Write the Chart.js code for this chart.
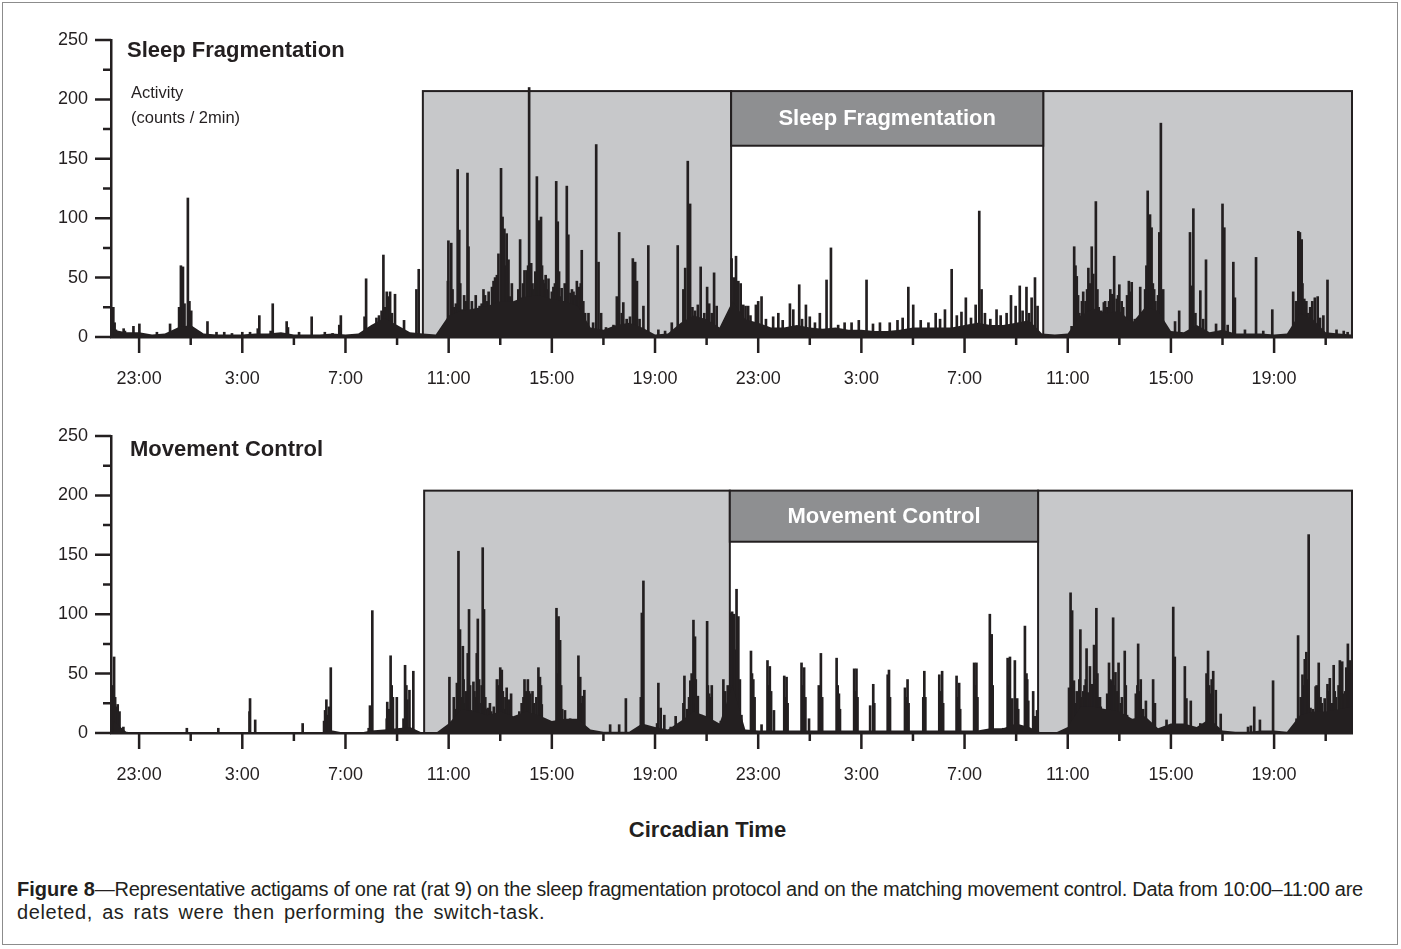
<!DOCTYPE html>
<html>
<head>
<meta charset="utf-8">
<script src="https://cdn.jsdelivr.net/npm/chart.js@4.4.1/dist/chart.umd.min.js"></script>
<style>
  body { margin: 0; background: #fff; width: 1401px; height: 949px; position: relative; overflow: hidden;
         font-family: 'Liberation Sans', Arial, sans-serif; color: #231f20; }
  #frame { position: absolute; left: 2px; top: 2px; width: 1394px; height: 941px; border: 1.5px solid #8c8c8c; }
  canvas { position: absolute; left: 0; }
  #fragChart { top: 0; }
  #ctrlChart { top: 396px; }
  .lbl { position: absolute; white-space: nowrap; }
  .panel { font: bold 22px/22px 'Liberation Sans', Arial, sans-serif; }
  .cap { left: 17px; font-size: 20px; line-height: 23px; }
</style>
</head>
<body>
<div id="frame"></div>
<canvas id="fragChart" width="1401" height="396"></canvas>
<canvas id="ctrlChart" width="1401" height="396"></canvas>

<div class="lbl panel" style="left:127px; top:39px;">Sleep Fragmentation</div>
<div class="lbl" style="left:131px; top:80px; font-size:16.5px; line-height:25px;">Activity<br>(counts / 2min)</div>
<div class="lbl panel" style="left:130px; top:438px;">Movement Control</div>
<div class="lbl" style="left:7px; width:1401px; top:819px; text-align:center; font:bold 22px/22px 'Liberation Sans', Arial, sans-serif;">Circadian Time</div>
<div class="lbl cap" style="top:878px; letter-spacing:-0.28px;"><b style="letter-spacing:0">Figure 8</b>—Representative actigams of one rat (rat 9) on the sleep fragmentation protocol and on the matching movement control. Data from 10:00–11:00 are</div>
<div class="lbl cap" style="top:901px; letter-spacing:0.6px; word-spacing:3px;">deleted, as rats were then performing the switch-task.</div>

<script>
// Tick positions (hours since midnight of the first day)
const xMajor = [23, 27, 31, 35, 39, 43, 47, 51, 55, 59, 63, 67];
const xMinor = [25, 29, 33, 37, 41, 45, 49, 53, 57, 61, 65, 69];
const yMajor = [0, 50, 100, 150, 200, 250];
const yMinor = [25, 75, 125, 175, 225];

// Activity spikes, [hour, counts / 2min]  -- Sleep Fragmentation
const fragSpikes = [
  [22.00,25],[22.05,12],[22.10,6],[22.40,7],[22.45,5],[22.78,9],[23.01,11],[23.69,4],[24.20,11],[24.55,25],
  [24.62,60],[24.70,59],[24.76,28],[24.89,117],[24.95,30],[25.02,22],[25.36,4],[25.65,13],[26.00,4],[26.30,4],
  [26.60,3],[27.00,4],[27.30,4],[27.60,7],[27.66,18],[28.10,5],[28.18,28],[28.72,13],[28.77,8],[29.20,4],
  [29.69,17],[30.20,4],[30.50,3],[30.76,10],[30.82,18],[31.74,17],[31.80,49],[32.20,16],[32.30,18],[32.40,22],
  [32.47,69],[32.53,25],[32.60,38],[32.66,34],[32.73,38],[32.80,20],[32.92,36],[33.00,9],[33.27,14],[33.75,40],
  [33.84,57],
  [34.97,47],[34.99,81],[35.10,79],[35.15,40],[35.20,25],[35.28,28],[35.35,141],[35.41,90],[35.45,45],[35.51,23],
  [35.60,35],[35.66,30],[35.73,138],[35.77,76],[35.85,20],[35.90,30],[35.96,18],[36.05,35],[36.10,22],[36.20,26],
  [36.28,28],[36.35,40],[36.41,35],[36.50,30],[36.55,38],[36.61,25],[36.68,42],[36.74,47],[36.80,50],[36.87,52],
  [36.93,70],[37.03,142],[37.09,101],[37.16,91],[37.20,60],[37.25,87],[37.32,65],[37.38,34],[37.45,45],[37.50,25],
  [37.58,28],[37.65,30],[37.70,40],[37.77,82],[37.83,33],[37.88,45],[37.94,56],[38.03,56],[38.08,60],[38.12,210],
  [38.20,62],[38.25,45],[38.30,40],[38.36,55],[38.42,135],[38.46,70],[38.51,98],[38.58,101],[38.62,60],[38.67,48],
  [38.72,45],[38.76,52],[38.82,40],[38.87,49],[38.95,30],[39.00,38],[39.06,42],[39.12,45],[39.17,131],[39.23,97],
  [39.28,55],[39.32,34],[39.38,41],[39.45,30],[39.50,45],[39.58,127],[39.64,86],[39.72,37],[39.78,40],[39.84,38],
  [39.90,35],[39.97,47],[40.02,38],[40.06,42],[40.12,45],[40.16,73],[40.22,30],[40.29,20],[40.42,20],[40.60,12],
  [40.72,162],[40.81,63],[40.91,20],[41.10,8],[41.39,10],[41.52,34],[41.61,88],[41.71,20],[41.77,29],[41.90,15],
  [42.03,17],[42.14,66],[42.23,63],[42.30,47],[42.40,15],[42.55,26],[42.74,77],[43.13,6],[43.39,5],[43.65,12],
  [43.88,77],[44.10,40],[44.17,58],[44.27,148],[44.36,112],[44.45,25],[44.55,22],[44.66,27],[44.77,59],[44.91,20],
  [45.02,42],[45.10,28],[45.20,20],[45.29,54],[45.39,26],[45.48,6],
  [45.97,66],[46.05,50],[46.14,68],[46.23,47],[46.32,45],[46.42,27],[46.51,26],[46.61,26],[46.70,18],[46.91,27],
  [47.00,30],[47.13,34],[47.30,15],[47.58,17],[47.78,20],[47.95,14],[48.23,28],[48.36,23],[48.59,44],[48.70,15],
  [48.85,27],[49.00,17],[49.20,12],[49.39,20],[49.65,48],[49.82,75],[50.10,10],[50.35,12],[50.62,12],[50.90,14],
  [51.20,48],[51.45,11],[51.72,12],[52.10,12],[52.40,14],[52.60,16],[52.82,42],[53.01,27],[53.30,14],[53.60,12],
  [53.88,20],[54.05,15],[54.24,23],[54.50,57],[54.70,18],[54.88,21],[55.05,33],[55.25,16],[55.43,27],[55.57,106],
  [55.66,40],[55.79,20],[56.00,15],[56.24,23],[56.40,18],[56.63,20],[56.80,35],[56.98,26],[57.14,43],[57.25,22],
  [57.40,42],[57.50,20],[57.60,33],[57.73,50],[57.83,26],
  [59.15,9],[59.25,76],[59.30,60],[59.35,51],[59.40,35],[59.45,20],[59.55,30],[59.60,38],[59.69,30],[59.75,40],
  [59.80,58],[59.85,45],[59.93,76],[59.99,53],[60.09,114],[60.15,40],[60.20,25],[60.30,22],[60.40,29],[60.45,30],
  [60.51,25],[60.60,30],[60.65,40],[60.73,36],[60.80,68],[60.90,32],[60.95,35],[61.00,44],[61.09,30],[61.15,25],
  [61.30,35],[61.37,47],[61.43,38],[61.48,46],[61.60,15],[61.81,42],[62.00,40],[62.05,60],[62.10,123],[62.19,103],
  [62.25,92],[62.30,45],[62.35,40],[62.40,30],[62.45,15],[62.50,35],[62.55,88],[62.61,180],[62.70,40],[63.16,13],
  [63.32,22],[63.74,88],[63.80,43],[63.87,108],[63.95,20],[64.14,39],[64.25,15],[64.36,65],[64.75,11],[65.00,112],
  [65.07,92],[65.20,10],[65.42,63],[65.48,33],[65.87,6],[66.30,67],[66.58,5],[66.93,23],[67.74,38],[67.85,30],
  [67.94,89],[68.00,88],[68.07,82],[68.10,45],[68.17,32],[68.25,30],[68.30,20],[68.40,25],[68.48,30],[68.58,33],
  [68.69,34],[68.78,16],[68.91,18],[69.07,48],[69.42,6],[69.70,5],[69.85,4]
];

// Dense background activity every 30 min from 22:00 -- Sleep Fragmentation
const fragBase = [
  6,4,4,2,3,8,10,3,2,2,2,3,3,4,2,2,2,3,2,3,10,16,10,4,
  3,2,18,22,24,26,30,30,34,35,32,30,26,8,6,10,12,8,2,3,12,18,15,8,
  30,15,12,8,8,10,8,7,8,6,6,5,5,6,8,8,8,8,10,12,10,10,12,14,
  3,2,3,18,24,20,22,12,25,22,5,4,10,4,6,3,3,3,2,3,20,15,4,3,2
];

// Activity spikes, [hour, counts / 2min]  -- Movement Control
const ctrlSpikes = [
  [22.00,40],[22.03,64],[22.07,30],[22.11,22],[22.17,24],[22.24,18],[22.39,5],[24.85,4],[26.07,4],[27.28,18],
  [27.30,29],[27.50,11],[29.34,8],[30.17,10],[30.21,19],[30.26,28],[30.31,15],[30.36,22],[30.43,55],[31.90,4],
  [31.95,23],[32.00,20],[32.04,103],[32.60,12],[32.62,26],[32.68,20],[32.75,65],[32.79,40],[32.84,30],[32.99,30],
  [33.25,12],[33.31,57],[33.36,40],[33.40,28],[33.48,36],[33.63,52],
  [35.03,47],[35.20,30],[35.25,20],[35.32,42],[35.38,153],[35.44,87],[35.50,30],[35.55,73],[35.58,45],[35.62,25],
  [35.68,35],[35.74,67],[35.79,104],[35.83,40],[35.87,19],[35.96,43],[36.00,35],[36.03,30],[36.09,67],[36.13,96],
  [36.18,45],[36.20,25],[36.28,40],[36.32,156],[36.37,104],[36.42,30],[36.45,20],[36.52,21],[36.60,25],[36.65,18],
  [36.75,22],[36.87,45],[36.93,40],[36.98,45],[37.00,55],[37.06,53],[37.10,35],[37.15,20],[37.20,30],[37.25,38],
  [37.32,15],[37.35,28],[37.42,33],[37.60,10],[37.74,18],[37.83,25],[37.90,30],[37.94,45],[38.00,35],[38.07,45],
  [38.12,35],[38.16,33],[38.25,35],[38.30,25],[38.35,15],[38.40,30],[38.48,55],[38.54,47],[38.58,40],[38.61,24],
  [38.85,5],[39.05,8],[39.18,105],[39.22,50],[39.26,98],[39.32,78],[39.36,40],[39.40,20],[39.51,19],[39.71,12],
  [40.03,65],[40.06,40],[40.10,47],[40.15,25],[40.19,31],[40.26,36],[41.26,7],[41.61,7],[41.87,29],[42.45,30],
  [42.49,101],[42.52,60],[42.55,128],[43.08,8],[43.13,42],[43.22,21],[43.36,15],[43.61,5],[43.80,14],[44.10,25],
  [44.14,48],[44.25,20],[44.32,30],[44.37,44],[44.42,50],[44.45,40],[44.49,95],[44.52,60],[44.55,81],[44.58,45],
  [44.60,25],[44.66,31],[44.80,15],[45.02,94],[45.05,40],[45.10,33],[45.15,30],[45.20,40],[45.55,10],[45.65,45],
  [45.72,35],[45.82,40],
  [45.93,101],[45.99,102],[46.06,100],[46.11,70],[46.16,121],[46.23,98],[46.29,45],[46.35,15],[46.72,69],[46.76,50],
  [46.81,45],[46.86,30],[47.13,7],[47.36,61],[47.40,40],[47.45,56],[47.50,35],[47.61,19],[48.01,48],[48.06,30],
  [48.10,47],[48.14,25],[48.68,59],[48.73,40],[48.78,55],[48.83,30],[48.97,12],[49.35,40],[49.43,67],[49.48,30],
  [50.04,63],[50.08,40],[50.13,33],[50.17,20],[50.72,54],[50.76,35],[50.81,54],[50.85,30],[51.34,23],[51.46,41],
  [51.50,25],[52.02,49],[52.07,53],[52.11,30],[52.69,38],[52.74,30],[52.79,45],[52.83,25],[53.40,30],[53.44,52],
  [53.48,30],[54.02,49],[54.07,35],[54.13,52],[54.17,25],[54.69,48],[54.74,30],[54.79,42],[54.83,20],[55.37,59],
  [55.42,40],[55.46,59],[55.50,30],[55.98,100],[56.05,83],[56.09,40],[56.50,4],[56.67,63],[56.72,40],[56.76,64],
  [56.85,29],[56.95,61],[57.04,29],[57.08,20],[57.34,90],[57.40,50],[57.43,45],[57.47,27],[57.66,35],[57.73,14],
  [57.81,19],
  [59.05,38],[59.11,118],[59.14,50],[59.17,103],[59.20,40],[59.24,44],[59.30,25],[59.35,35],[59.40,24],[59.45,45],
  [59.49,87],[59.56,30],[59.60,35],[59.65,40],[59.70,45],[59.73,71],[59.79,34],[59.86,56],[59.90,40],[59.95,41],
  [60.02,74],[60.06,45],[60.11,105],[60.15,50],[60.20,30],[60.25,30],[60.28,22],[60.40,18],[60.53,33],[60.60,59],
  [60.65,45],[60.70,44],[60.76,97],[60.80,40],[60.85,51],[60.92,35],[60.97,59],[61.05,25],[61.10,30],[61.21,69],
  [61.25,40],[61.30,15],[61.64,33],[61.70,40],[61.73,75],[61.78,35],[61.83,45],[61.92,20],[62.03,27],[62.31,45],
  [62.38,25],[62.83,11],[63.09,106],[63.12,40],[63.15,64],[63.54,56],[63.60,29],[63.77,27],[64.14,8],[64.38,50],
  [64.44,69],[64.48,40],[64.53,33],[64.58,45],[64.64,52],[64.74,36],[64.93,16],[65.99,5],[66.10,6],[66.23,22],
  [66.45,11],[66.96,44],[67.87,12],[67.93,82],[68.03,30],[68.10,49],[68.15,40],[68.19,62],[68.25,68],[68.30,45],
  [68.34,167],[68.41,21],[68.50,20],[68.61,39],[68.65,40],[68.73,59],[68.80,30],[68.85,25],[68.96,29],[69.07,41],
  [69.10,35],[69.16,46],[69.25,25],[69.31,57],[69.35,35],[69.40,30],[69.50,40],[69.55,61],[69.60,40],[69.64,60],
  [69.71,33],[69.75,35],[69.80,55],[69.86,75],[69.90,45],[69.93,61],[69.96,50]
];

// Dense background activity every 30 min from 22:00 -- Movement Control
const ctrlBase = [
  10,1,0,0,0,0,0,0,0,0,0,0,0,0,0,0,0,2,0,0,2,3,4,5,
  0,0,8,20,18,15,18,14,18,15,10,12,12,3,1,1,1,8,5,3,10,18,14,8,
  40,3,2,2,2,2,2,2,2,2,2,2,2,2,2,2,2,2,2,2,4,4,8,5,
  0,0,5,22,22,20,18,12,14,4,8,8,5,12,2,1,1,2,2,1,15,18,18,20,22
];

const INK = '#231f20';
const FONT = "'Liberation Sans', Arial, sans-serif";

const shading = {
  id: 'shading',
  beforeDatasetsDraw(chart, args, o) {
    const { ctx, scales: { x, y } } = chart;
    const y0 = y.getPixelForValue(0);
    ctx.save();
    ctx.lineWidth = 2;
    ctx.strokeStyle = INK;
    o.dark.forEach(([a, b]) => {
      const l = x.getPixelForValue(a), r = x.getPixelForValue(b), t = y.getPixelForValue(o.top);
      ctx.fillStyle = '#c7c8ca';
      ctx.fillRect(l, t, r - l, y0 - t);
      ctx.strokeRect(l, t, r - l, y0 - t);
    });
    const [a, b, lo, hi] = o.banner;
    const l = x.getPixelForValue(a), r = x.getPixelForValue(b);
    const t = y.getPixelForValue(hi), btm = y.getPixelForValue(lo);
    ctx.fillStyle = '#8e8f91';
    ctx.fillRect(l, t, r - l, btm - t);
    ctx.strokeRect(l, t, r - l, btm - t);
    ctx.fillStyle = '#fff';
    ctx.font = 'bold 22px ' + FONT;
    ctx.textAlign = 'center';
    ctx.textBaseline = 'middle';
    ctx.fillText(o.text, (l + r) / 2, (t + btm) / 2 + 1);
    ctx.restore();
  }
};

const axisTicks = {
  id: 'axisTicks',
  afterDraw(chart) {
    const { ctx, scales: { x, y }, chartArea: a } = chart;
    ctx.save();
    ctx.strokeStyle = INK;
    ctx.lineWidth = 2.5;
    ctx.beginPath();
    yMajor.forEach(v => { const p = y.getPixelForValue(v); ctx.moveTo(a.left, p); ctx.lineTo(a.left - 16, p); });
    yMinor.forEach(v => { const p = y.getPixelForValue(v); ctx.moveTo(a.left, p); ctx.lineTo(a.left - 8, p); });
    xMajor.forEach(v => { const p = x.getPixelForValue(v); ctx.moveTo(p, a.bottom); ctx.lineTo(p, a.bottom + 16); });
    xMinor.forEach(v => { const p = x.getPixelForValue(v); ctx.moveTo(p, a.bottom); ctx.lineTo(p, a.bottom + 8); });
    ctx.stroke();
    ctx.restore();
  }
};

function actigram(id, spikes, base, dark, boxTop, banner, text) {
  new Chart(document.getElementById(id), {
    type: 'bar',
    data: {
      datasets: [
        {
          type: 'line',
          data: base.map((v, i) => ({ x: 22 + i * 0.5, y: v })),
          fill: 'origin', backgroundColor: INK, borderWidth: 0, pointRadius: 0, tension: 0
        },
        {
          type: 'bar',
          data: spikes.map(([h, v]) => ({ x: h, y: v })),
          backgroundColor: INK, barThickness: 2
        }
      ]
    },
    options: {
      responsive: false,
      animation: false,
      layout: { padding: { left: 0, right: 49, top: 40, bottom: 0 } },
      plugins: {
        legend: { display: false },
        tooltip: { enabled: false },
        shading: { dark: dark, top: boxTop, banner: banner, text: text }
      },
      scales: {
        x: {
          type: 'linear', min: 21.91, max: 70.02, offset: false,
          grid: { display: false, drawTicks: false },
          border: { color: INK, width: 2.5 },
          afterBuildTicks: s => { s.ticks = xMajor.map(v => ({ value: v })); },
          afterFit: s => { s.height = 59; },
          ticks: { callback: v => (v % 24) + ':00', color: INK, font: { family: FONT, size: 18 }, padding: 31, maxRotation: 0, autoSkip: false }
        },
        y: {
          min: 0, max: 250,
          grid: { display: false, drawTicks: false },
          border: { color: INK, width: 2.5 },
          afterBuildTicks: s => { s.ticks = yMajor.map(v => ({ value: v })); },
          afterFit: s => { s.width = 111; },
          ticks: { color: INK, font: { family: FONT, size: 18 }, padding: 23 }
        }
      }
    },
    plugins: [shading, axisTicks]
  });
}

actigram('fragChart', fragSpikes, fragBase, [[34.0, 45.95], [58.05, 70.02]], 207, [45.95, 58.05, 161, 207], 'Sleep Fragmentation');
actigram('ctrlChart', ctrlSpikes, ctrlBase, [[34.05, 45.9], [57.85, 70.02]], 204, [45.9, 57.85, 161, 204], 'Movement Control');
</script>
</body>
</html>
